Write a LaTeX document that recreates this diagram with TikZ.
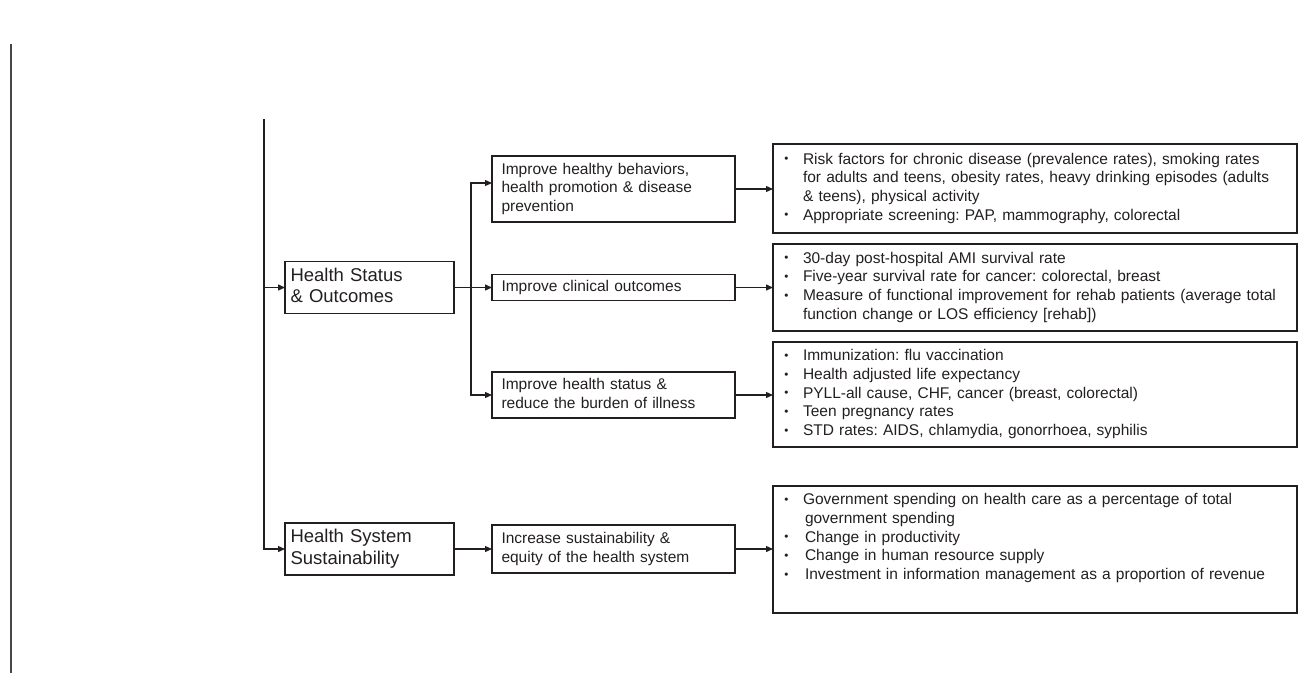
\documentclass[tikz,border=0pt]{standalone}
\usepackage{fontspec}
\setmainfont{Liberation Sans}
\usetikzlibrary{arrows.meta,calc}
\frenchspacing

\definecolor{ink}{RGB}{35,31,32}
\definecolor{stemgray}{RGB}{70,70,70}

% small bullet used in the indicator lists
\newcommand\dotmark{\raisebox{1.3pt}{\scalebox{0.75}{\textbullet}}}

\tikzset{
  frame/.style={draw=ink, line width=1.2pt, rectangle, inner ysep=0pt,
                outer sep=0pt, text=ink},
  topbox/.style={frame, minimum height=52pt, inner xsep=5.5pt,
                 text width=158pt, align=left,
                 font=\fontsize{18.5}{21.5}\selectfont},
  midbox/.style={frame, inner xsep=9.5pt, text width=224pt, align=left,
                 font=\fontsize{15.5}{18.7}\selectfont},
  listbox/.style={frame, inner xsep=11.4pt, text width=501.2pt, align=left,
                  font=\fontsize{15.5}{18.7}\selectfont},
  link/.style={draw=ink, line width=1.2pt,
               -{Triangle[length=7pt,width=6pt]}},
  stem/.style={draw=stemgray, line width=1.8pt},
}

\begin{document}
\begin{tikzpicture}[x=1pt,y=-1pt]
\useasboundingbox (0,0) rectangle (1308,673);

% left rule
\coordinate (leftTop) at (11,44);
\coordinate (leftBot) at (11,673);
\draw[stem] (leftTop) -- (leftBot);

% domains
\node[topbox] (hs) at (369.5,287.5) {\begin{tabular}{@{}l@{}}Health Status\\ \& Outcomes\end{tabular}};
\node[topbox] (hss) at (369.5,549) {\begin{tabular}{@{}l@{}}Health System\\ Sustainability\end{tabular}};

% goals
\node[midbox, minimum height=66pt] (a) at (613.5,189)
  {\begin{tabular}{@{}l@{}}Improve healthy behaviors,\\ health promotion \& disease\\ prevention\end{tabular}};
\node[midbox, minimum height=26pt] (b) at (613.5,287.5)
  {\begin{tabular}{@{}l@{}}Improve clinical outcomes\end{tabular}};
\node[midbox, minimum height=46pt] (c) at (613.5,395)
  {\begin{tabular}{@{}l@{}}Improve health status \&\\ reduce the burden of illness\end{tabular}};
\node[midbox, minimum height=48pt] (d) at (613.5,549)
  {\begin{tabular}{@{}l@{}}Increase sustainability \&\\ equity of the health system\end{tabular}};

% indicators
\node[listbox, minimum height=89pt] (r1) at (1035,188.5)
  {\begin{tabular}{@{}p{18.6pt}@{}l@{}}
   \dotmark & Risk factors for chronic disease (prevalence rates), smoking rates\\
            & for adults and teens, obesity rates, heavy drinking episodes (adults\\
            & \& teens), physical activity\\
   \dotmark & Appropriate screening: PAP, mammography, colorectal
   \end{tabular}};
\node[listbox, minimum height=87pt] (r2) at (1035,287.5)
  {\begin{tabular}{@{}p{18.6pt}@{}l@{}}
   \dotmark & 30-day post-hospital AMI survival rate\\
   \dotmark & Five-year survival rate for cancer: colorectal, breast\\
   \dotmark & Measure of functional improvement for rehab patients (average total\\
            & function change or LOS efficiency [rehab])
   \end{tabular}};
\node[listbox, minimum height=105pt] (r3) at (1035,394.5)
  {\begin{tabular}{@{}p{18.6pt}@{}l@{}}
   \dotmark & Immunization: flu vaccination\\
   \dotmark & Health adjusted life expectancy\\
   \dotmark & PYLL-all cause, CHF, cancer (breast, colorectal)\\
   \dotmark & Teen pregnancy rates\\
   \dotmark & STD rates: AIDS, chlamydia, gonorrhoea, syphilis
   \end{tabular}};
\node[listbox, minimum height=127pt] (r4) at (1035,549.5)
  {\begin{tabular}{@{}p{18.6pt}@{}l@{}}
   \dotmark & Government spending on health care as a percentage of total\\
            & \hspace{2pt}government spending\\
   \dotmark & \hspace{2pt}Change in productivity\\
   \dotmark & \hspace{2pt}Change in human resource supply\\
   \dotmark & \hspace{2pt}Investment in information management as a proportion of revenue\\[22pt]
   \end{tabular}};

% trunk to the domains
\coordinate (trunk) at (264,119);
\draw[link] (trunk) |- (hss.west);
\draw[link] (trunk |- hs.west) -- (hs.west);

% domain to goals
\coordinate (split) at (471,0);
\draw[link] (hs.east) -- (b.west);
\draw[link] (split |- hs.east) |- ([yshift=6pt]a.west);
\draw[link] (split |- hs.east) |- (c.west);
\draw[link] (hss.east) -- (d.west);

% goals to indicators
\draw[link] (a.east) -- (a.east -| r1.west);
\draw[link] (b.east) -- (b.east -| r2.west);
\draw[link] (c.east) -- (c.east -| r3.west);
\draw[link] (d.east) -- (d.east -| r4.west);
\end{tikzpicture}
\end{document}
